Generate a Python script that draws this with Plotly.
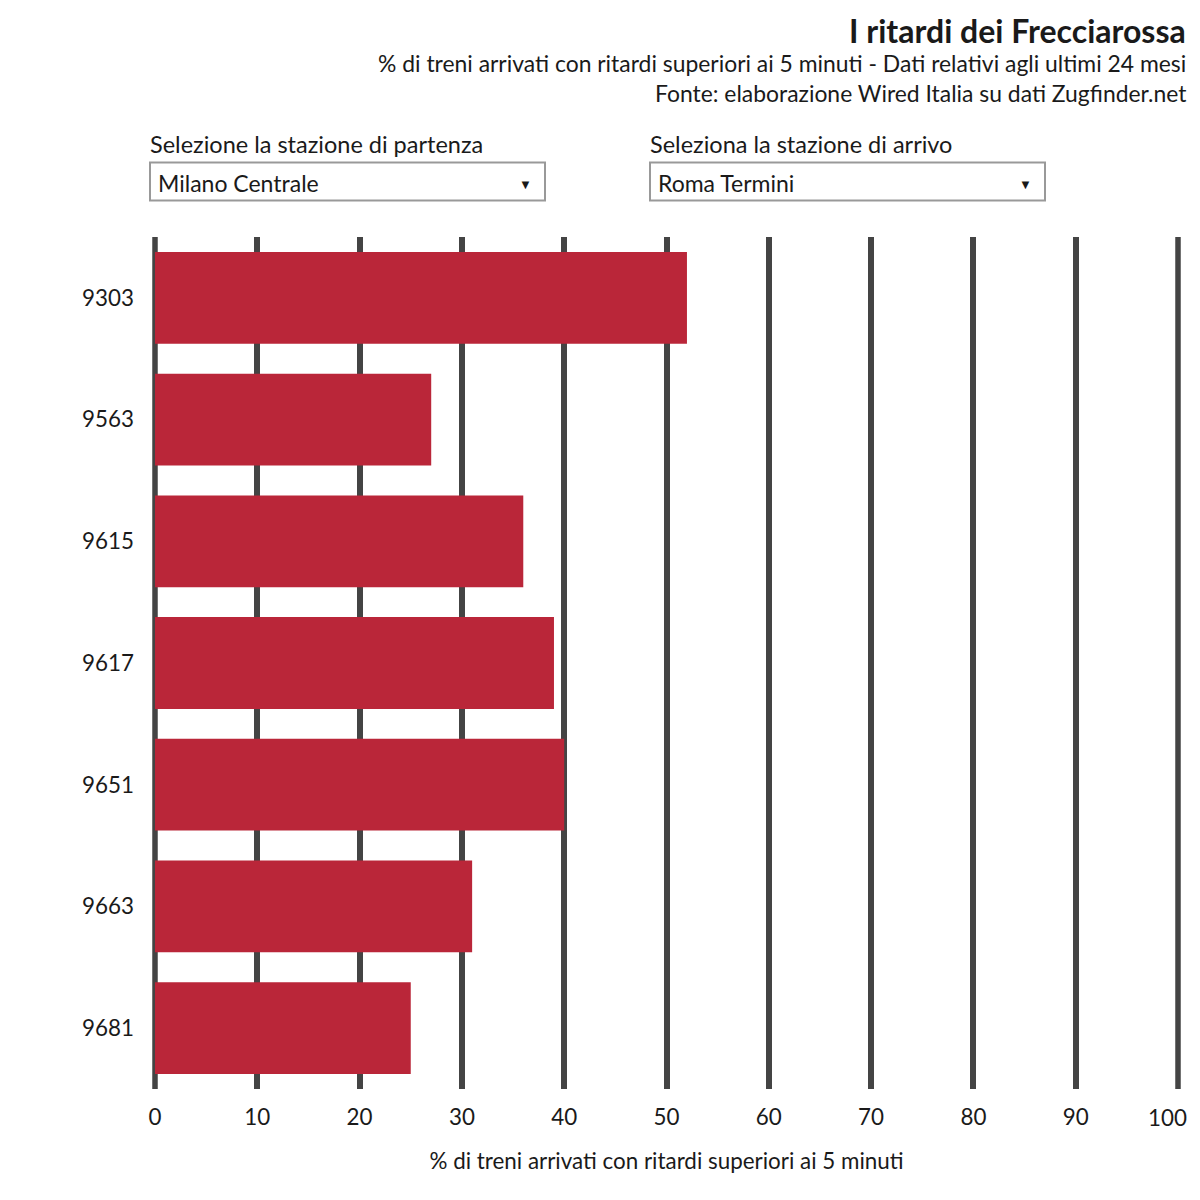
import plotly.graph_objects as go

trains = ["9303", "9563", "9615", "9617", "9651", "9663", "9681"]
delay_pct = [52, 27, 36, 39, 40, 31, 25]
x_ticks = [0, 10, 20, 30, 40, 50, 60, 70, 80, 90, 100]
x_tick_labels = [str(v) for v in x_ticks]

title = "I ritardi dei Frecciarossa"
subtitle = "% di treni arrivati con ritardi superiori ai 5 minuti - Dati relativi agli ultimi 24 mesi"
source = "Fonte: elaborazione Wired Italia su dati Zugfinder.net"
x_title = "% di treni arrivati con ritardi superiori ai 5 minuti"
dep_label = "Selezione la stazione di partenza"
dep_value = "Milano Centrale"
arr_label = "Seleziona la stazione di arrivo"
arr_value = "Roma Termini"

OFF = 8  # page margin of the browser
W, H = 1184, 1184
# screen coordinates of plot area
SL, SR, ST, SB = 155, 1178, 236.5, 1089
ML, MT = SL - OFF, ST - OFF
MR = W - (SR - OFF)
MB = H - (SB - OFF)
PW, PH = SR - SL, SB - ST

def px(x):
    return (x - SL) / PW

def py(y):
    return (SB - y) / PH

FONT = "Lato"
TXT = "#1a1a1a"
GRID = "#444444"
TICK_SIZE = 22.4

fig = go.Figure(go.Bar(
    x=delay_pct, y=trains, orientation="h",
    marker=dict(color="#BA2639", line=dict(width=0)),
    width=0.754, hoverinfo="x+y",
))

# the last tick label is drawn separately, pulled inside the page like the original
shown_labels = x_tick_labels[:-1] + [""]

fig.update_layout(
    width=W, height=H,
    margin=dict(l=ML, r=MR, t=MT, b=MB),
    paper_bgcolor="white", plot_bgcolor="white",
    font=dict(family=FONT, size=22, color=TXT),
    showlegend=False,
    xaxis=dict(
        range=[0, 100], tickvals=x_ticks, ticktext=shown_labels, showgrid=True, gridcolor=GRID,
        gridwidth=5.5, zeroline=False, showline=False,
        ticks="outside", ticklen=8, tickcolor="rgba(0,0,0,0)",
        tickfont=dict(size=TICK_SIZE, color=TXT), fixedrange=True,
        title=dict(text=x_title, font=dict(size=22.4, color=TXT), standoff=24),
    ),
    yaxis=dict(
        type="category", categoryorder="array", categoryarray=trains,
        autorange="reversed", showgrid=False, zeroline=False, showline=False,
        ticks="", tickfont=dict(size=TICK_SIZE, color=TXT), ticklabelstandoff=20,
        fixedrange=True,
    ),
)

# grid lines at the two ends of the axis (plotly omits them at the range edges)
shapes = []
for xv in (0, 1):
    shapes.append(dict(type="line", xref="paper", yref="paper", x0=xv, x1=xv, y0=0, y1=1,
                       line=dict(color=GRID, width=5.5), layer="below"))

ann = []
ann.append(dict(text=x_tick_labels[-1], x=x_ticks[-1], xref="x", y=py(1118), yref="paper",
                xanchor="center", yanchor="middle", xshift=-11, showarrow=False,
                font=dict(size=TICK_SIZE, color=TXT)))
ann.append(dict(text="<b>" + title + "</b>", x=px(1188), y=py(30), xref="paper", yref="paper",
                xanchor="right", yanchor="middle", showarrow=False, font=dict(size=32, color=TXT)))
ann.append(dict(text=subtitle, x=px(1188), y=py(62), xref="paper", yref="paper",
                xanchor="right", yanchor="middle", showarrow=False, font=dict(size=22.9, color=TXT)))
ann.append(dict(text=source, x=px(1188), y=py(92), xref="paper", yref="paper",
                xanchor="right", yanchor="middle", showarrow=False, font=dict(size=22.9, color=TXT)))

for (x0, lab, val) in [(150, dep_label, dep_value), (650, arr_label, arr_value)]:
    ann.append(dict(text=lab, x=px(x0 - 2), y=py(143), xref="paper", yref="paper",
                    xanchor="left", yanchor="middle", showarrow=False, font=dict(size=23.5, color=TXT)))
    shapes.append(dict(type="rect", xref="paper", yref="paper",
                       x0=px(x0), x1=px(x0 + 395), y0=py(200), y1=py(162),
                       line=dict(color="#999999", width=2), fillcolor="white", layer="above"))
    ann.append(dict(text=val, x=px(x0 + 6), y=py(182), xref="paper", yref="paper",
                    xanchor="left", yanchor="middle", showarrow=False, font=dict(size=23, color=TXT)))
    ann.append(dict(text="▼", x=px(x0 + 375), y=py(183), xref="paper", yref="paper",
                    xanchor="center", yanchor="middle", showarrow=False, font=dict(size=13, color=TXT)))

fig.update_layout(annotations=ann, shapes=shapes)
fig.write_html("out.html")
